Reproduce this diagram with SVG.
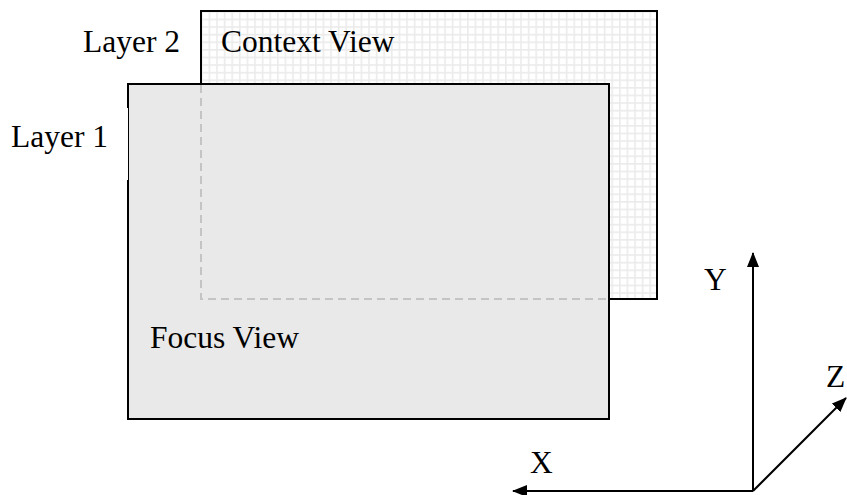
<svg xmlns="http://www.w3.org/2000/svg" width="847" height="495" viewBox="0 0 847 495">
<defs>
<pattern id="grid" x="201" y="11" width="7.6" height="7.6" patternUnits="userSpaceOnUse">
<rect width="7.6" height="7.6" fill="#ffffff"/>
<path d="M0 0.8H7.6M0.8 0V7.6" stroke="#ebebeb" stroke-width="1.6" fill="none"/>
</pattern>
<marker id="arr" markerWidth="15" markerHeight="12" refX="14" refY="6" orient="auto" markerUnits="userSpaceOnUse">
<path d="M0 0L15 6L0 12Z" fill="#000"/>
</marker>
<style>
.t{font-family:"Liberation Serif","Times New Roman",serif;font-size:31.5px;fill:#000}
.box{stroke:#000;stroke-width:2}
.dash{stroke:#c4c4c4;stroke-width:2;stroke-dasharray:8 5;fill:none}
.ax{stroke:#000;stroke-width:2;fill:none}
</style>
</defs>
<rect width="847" height="495" fill="#fff"/>
<g id="context-view">
<rect class="box" x="201" y="11" width="456" height="288" fill="url(#grid)"/>
<text class="t" x="221" y="52">Context View</text>
</g>
<g id="layer2-label">
<text class="t" x="83" y="52">Layer 2</text>
</g>
<g id="focus-view">
<rect class="box" x="128" y="84" width="481" height="335" fill="#e9e9e9"/>
<path class="dash" d="M201 85V299H608"/>
<text class="t" x="150" y="348">Focus View</text>
</g>
<g id="layer1-label">
<rect x="126" y="108" width="2" height="72" fill="#fff"/>
<text class="t" x="11" y="147">Layer 1</text>
</g>
<g id="axes">
<path class="ax" d="M753 491V253" marker-end="url(#arr)"/>
<path class="ax" d="M753 491H513" marker-end="url(#arr)"/>
<path class="ax" d="M753 491L846 398" marker-end="url(#arr)"/>
<text class="t" x="704" y="290">Y</text>
<text class="t" x="530" y="473">X</text>
<text class="t" x="826" y="387">Z</text>
</g>
</svg>
